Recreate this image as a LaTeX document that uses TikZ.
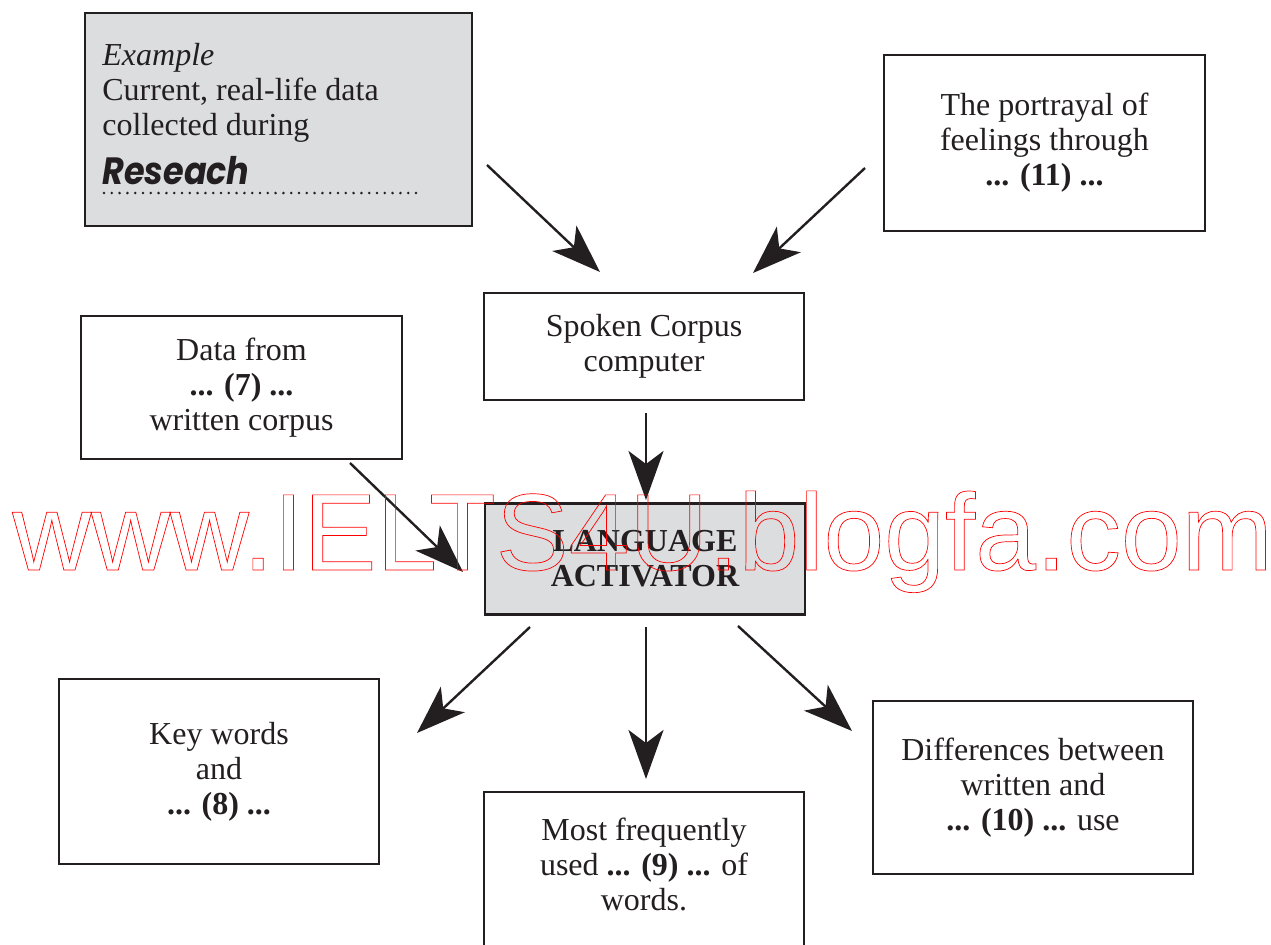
\documentclass[tikz,border=0pt]{standalone}
\usepackage{fontspec}
\setmainfont{Liberation Serif}
\newfontfamily\wmfont{Liberation Sans}
\newfontfamily\brushfont{Poppins}[FakeStretch=0.88]
\usetikzlibrary{arrows.meta}
\definecolor{boxgray}{HTML}{DCDDDF}
\definecolor{inkblack}{HTML}{231F20}
\newcommand\outlined[1]{\special{pdf:literal direct 1 Tr 0.35 w}#1\special{pdf:literal direct 0 Tr}}
\begin{document}
\begin{tikzpicture}[x=0.5pt,y=-0.5pt,
  box/.style={draw=inkblack, line width=1.25pt, inner sep=0pt, align=center, text=inkblack,
    font=\fontsize{16}{17.5}\selectfont},
  graybox/.style={box, fill=boxgray},
  txt/.style={inner sep=0pt, text=inkblack, font=\fontsize{16}{17.5}\selectfont},
  arr/.style={draw=inkblack, line width=1.2pt, -{Stealth[length=24.5pt,width=17.5pt,inset=6.5pt]}},
]
\useasboundingbox (0,0) rectangle (1271,944);

% boxes
\node[graybox, minimum width=193.5pt, minimum height=106.5pt] (ex) at (278.5,119.5) {};
\node[txt, anchor=base west] (ex1) at (102,65) {\itshape Example};
\node[txt, anchor=base west] (ex2) at (102,100) {Current, real-life data};
\node[txt, anchor=base west] (ex3) at (102,135) {collected during};
\node[inner sep=0pt, anchor=base west, text=inkblack, font=\brushfont\bfseries\itshape\fontsize{19}{20}\selectfont] (res) at (102,184) {Reseach};
\coordinate (dotsA) at (104,193);
\coordinate (dotsB) at (418,193);
\draw[inkblack, line width=1.4pt, line cap=round, dash pattern=on 0pt off 3.9pt] (dotsA) -- (dotsB);

\node[box, minimum width=160.5pt, minimum height=88pt] (feel) at (1044.5,143)
  {The portrayal of\\feelings through\\\textbf{... (11) ...}};
\node[box, minimum width=160pt, minimum height=53.5pt] (spoken) at (644,346.5)
  {Spoken Corpus\\computer};
\node[box, minimum width=160.5pt, minimum height=71.5pt] (data) at (241.5,387.5)
  {Data from\\\textbf{... (7) ...}\\written corpus};
\node[graybox, minimum width=160pt, minimum height=55.5pt, font=\fontsize{16}{17.5}\selectfont\bfseries] (la) at (645,559)
  {LANGUAGE\\ACTIVATOR};
\node[box, minimum width=160pt, minimum height=92.5pt] (key) at (219,771.5)
  {Key words\\and\\\textbf{... (8) ...}};
\node[box, minimum width=160pt, minimum height=89pt] (most) at (644,881) {};
\node[txt, align=center] (mosttxt) at (644,864)
  {Most frequently\\used \textbf{... (9) ...} of\\words.};
\node[box, minimum width=160pt, minimum height=86.5pt] (diff) at (1033,787.5)
  {Differences between\\written and\\\textbf{... (10) ...} use};

% arrow ends
\coordinate (a1s) at (487,165); \coordinate (a1e) at (600,272);
\coordinate (a2s) at (865,168); \coordinate (a2e) at (753,273);
\coordinate (a3s) at (646,413); \coordinate (a3e) at (646,500);
\coordinate (a4s) at (350,463); \coordinate (a4e) at (463,572);
\coordinate (a5s) at (530,627); \coordinate (a5e) at (417,733);
\coordinate (a6s) at (646,627); \coordinate (a6e) at (646,779);
\coordinate (a7s) at (738,626); \coordinate (a7e) at (852,731);
\draw[arr] (a1s) -- (a1e);
\draw[arr] (a2s) -- (a2e);
\draw[arr] (a3s) -- (a3e);
\draw[arr] (a4s) -- (a4e);
\draw[arr] (a5s) -- (a5e);
\draw[arr] (a6s) -- (a6e);
\draw[arr] (a7s) -- (a7e);

% watermark
\node[inner sep=0pt, anchor=base west, text=red, font=\wmfont\fontsize{54.6}{60}\selectfont] (wm) at (12,570)
  {\outlined{www.IELTS4U.blogfa.com}};
\end{tikzpicture}
\end{document}
